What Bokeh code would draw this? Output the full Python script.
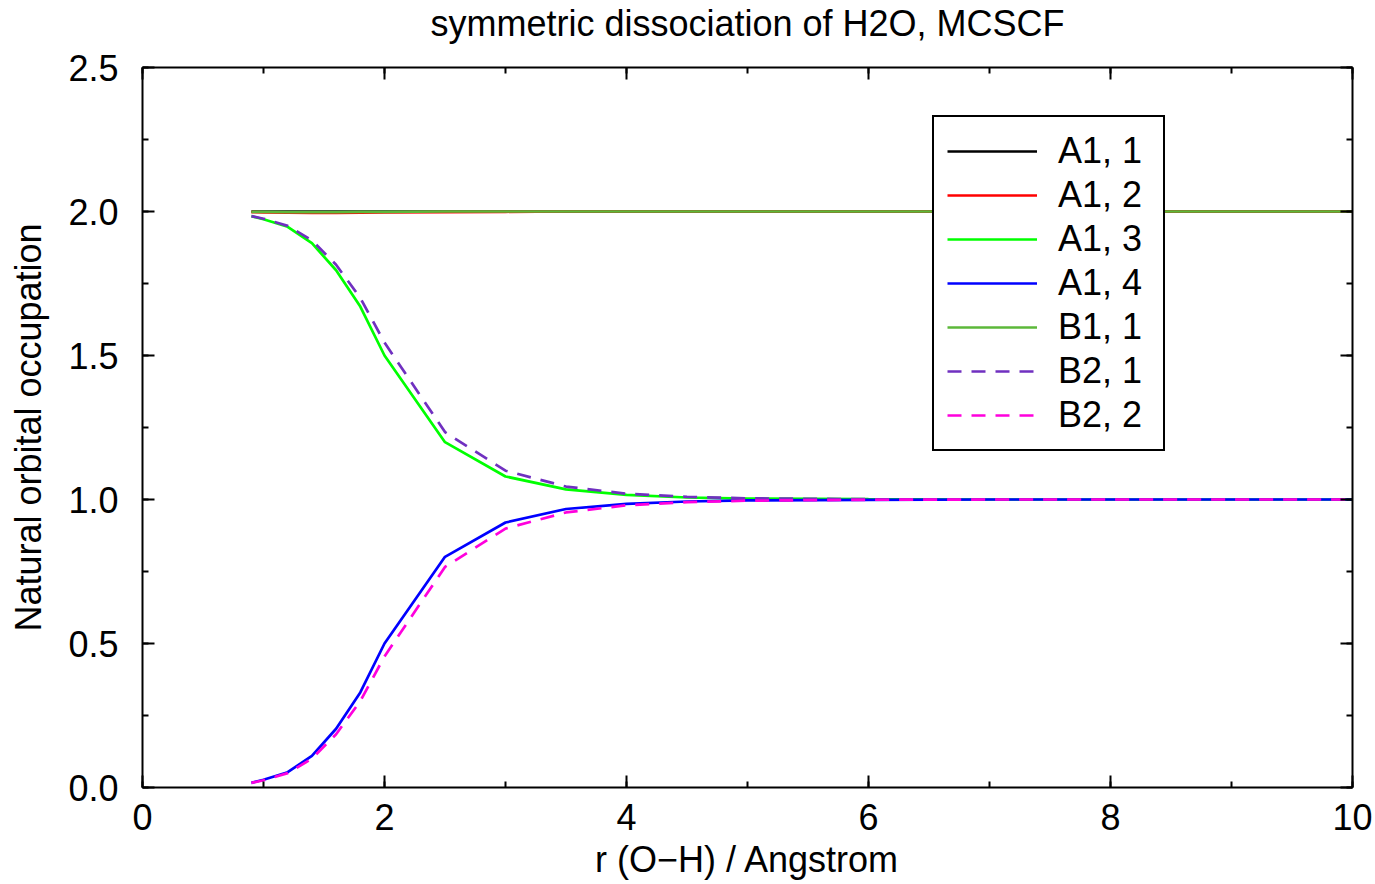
from bokeh.plotting import figure
from bokeh.models import (Range1d, LinearAxis, SingleIntervalTicker, PrintfTickFormatter,
                          Legend, LegendItem, Title)
from bokeh.embed import file_html
from bokeh.resources import INLINE

# ---- data ----
r = [0.9, 1.0, 1.2, 1.4, 1.6, 1.8, 2.0, 2.5, 3.0, 3.5, 4.0, 4.5, 5.0, 6.0, 7.0, 8.0, 9.0, 10.0]
a1_1 = [2.000, 2.000, 2.000, 2.000, 2.000, 2.000, 2.000, 2.000, 2.000, 2.000, 2.000, 2.000, 2.000, 2.000, 2.000, 2.000, 2.000, 2.000]
a1_2 = [1.998, 1.997, 1.996, 1.995, 1.995, 1.996, 1.997, 1.998, 1.999, 2.000, 2.000, 2.000, 2.000, 2.000, 2.000, 2.000, 2.000, 2.000]
a1_3 = [1.984, 1.973, 1.947, 1.890, 1.796, 1.670, 1.500, 1.199, 1.080, 1.035, 1.016, 1.007, 1.003, 1.001, 1.000, 1.000, 1.000, 1.000]
a1_4 = [0.016, 0.027, 0.053, 0.110, 0.204, 0.330, 0.500, 0.801, 0.920, 0.967, 0.985, 0.993, 0.997, 0.999, 1.000, 1.000, 1.000, 1.000]
b1_1 = [1.999, 1.999, 1.998, 1.998, 1.998, 1.999, 1.999, 2.000, 2.000, 2.000, 2.000, 2.000, 2.000, 2.000, 2.000, 2.000, 2.000, 2.000]
b2_1 = [1.984, 1.975, 1.950, 1.900, 1.815, 1.700, 1.545, 1.234, 1.100, 1.045, 1.020, 1.009, 1.004, 1.001, 1.000, 1.000, 1.000, 1.000]
b2_2 = [0.016, 0.025, 0.050, 0.100, 0.185, 0.300, 0.455, 0.766, 0.899, 0.955, 0.980, 0.991, 0.996, 0.999, 1.000, 1.000, 1.000, 1.000]

series_names = ["A1, 1", "A1, 2", "A1, 3", "A1, 4", "B1, 1", "B2, 1", "B2, 2"]
series_vals = [a1_1, a1_2, a1_3, a1_4, b1_1, b2_1, b2_2]
series_colors = ["#000000", "#ff0000", "#00ff00", "#0000ff", "#5cb83a", "#7030c0", "#ff00dd"]
series_dash = ["solid", "solid", "solid", "solid", "solid", "14 10", "14 10"]

title_text = "symmetric dissociation of H2O, MCSCF"
x_label = "r (O\u2212H) / Angstrom"
y_label = "Natural orbital occupation"

FONT = "Liberation Sans"
FS = "36px"

W, H = 1374, 884
FL, FR, FT, FB = 142, 1352, 67, 787  # frame edges in page pixels
p = figure(width=W, height=H, output_backend="svg", toolbar_location=None,
           x_range=Range1d(0, 10), y_range=Range1d(0, 2.5),
           x_axis_type=None, y_axis_type=None,
           min_border_left=FL, min_border_right=W - FR,
           min_border_top=FT, min_border_bottom=H - FB)
p.title = Title(text=title_text, align="center", text_font=FONT, text_font_size=FS,
                text_font_style="normal", text_color="black", standoff=0)
p.outline_line_color = None
p.background_fill_color = "white"
p.border_fill_color = "white"


def make_axis(labels, ticker):
    ax = LinearAxis(ticker=ticker)
    ax.axis_line_width = 2
    ax.axis_line_color = "black"
    ax.major_tick_in = 12
    ax.major_tick_out = 0
    ax.minor_tick_in = 6
    ax.minor_tick_out = 0
    ax.major_tick_line_width = 2
    ax.minor_tick_line_width = 2
    ax.major_tick_line_color = "black"
    ax.minor_tick_line_color = "black"
    if labels:
        ax.major_label_text_font = FONT
        ax.major_label_text_font_size = FS
        ax.major_label_text_color = "black"
        ax.axis_label_text_font = FONT
        ax.axis_label_text_font_size = FS
        ax.axis_label_text_font_style = "normal"
        ax.axis_label_text_color = "black"
    else:
        ax.major_label_text_font_size = "0px"
        ax.major_label_text_color = None
        ax.major_label_standoff = 0
    return ax


xb = make_axis(True, SingleIntervalTicker(interval=2, num_minor_ticks=2))
xb.formatter = PrintfTickFormatter(format="%d")
xb.axis_label = x_label
xb.major_label_standoff = 16
xb.axis_label_standoff = 6
p.add_layout(xb, "below")

yl = make_axis(True, SingleIntervalTicker(interval=0.5, num_minor_ticks=2))
yl.formatter = PrintfTickFormatter(format="%.1f")
yl.axis_label = y_label
yl.major_label_standoff = 24
yl.axis_label_standoff = 16
p.add_layout(yl, "left")

# mirror axis on top; its (blank) axis label only reserves the gap below the title
xtop = make_axis(False, SingleIntervalTicker(interval=2, num_minor_ticks=2))
xtop.axis_label = " "
xtop.axis_label_text_font_size = "1px"
xtop.axis_label_text_color = None
xtop.axis_label_standoff = 20
p.add_layout(xtop, "above")
yr = make_axis(False, SingleIntervalTicker(interval=0.5, num_minor_ticks=2))
p.add_layout(yr, "right")

items = []
for name, vals, col, dash in zip(series_names, series_vals, series_colors, series_dash):
    rend = p.line(r, vals, line_color=col, line_width=2.7, line_dash=dash)
    items.append(LegendItem(label=name, renderers=[rend]))

legend = Legend(items=items, location=(932 - FL, FB - 451))
legend.label_text_font = FONT
legend.label_text_font_size = FS
legend.label_text_color = "black"
legend.glyph_width = 90
legend.glyph_height = 40
legend.label_height = 40
legend.label_width = 92
legend.label_standoff = 21
legend.padding = 13
legend.spacing = 2
legend.margin = 0
legend.border_line_color = "black"
legend.border_line_alpha = 1.0
legend.border_line_width = 2
legend.background_fill_color = "white"
legend.background_fill_alpha = 1.0
p.add_layout(legend, "center")

open("out.html", "w").write(file_html(p, INLINE))
